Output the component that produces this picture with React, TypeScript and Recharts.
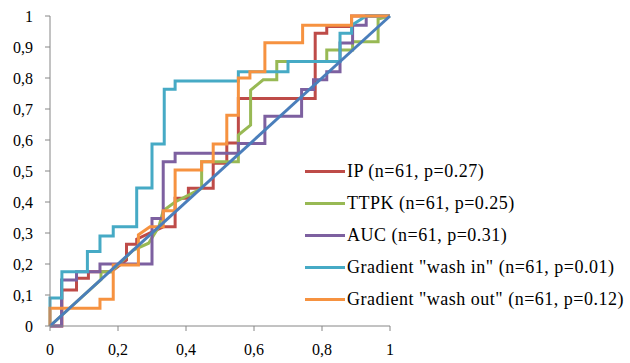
import { LineChart, Line, XAxis, YAxis, Legend } from "recharts";

// ROC curves: false positive rate (x) / true positive rate (y) corner points
const ipX = [0, 0.035, 0.035, 0.078, 0.078, 0.113, 0.113, 0.18, 0.225, 0.225, 0.255, 0.255, 0.333, 0.368, 0.368, 0.407, 0.407, 0.48, 0.48, 0.52, 0.52, 0.554, 0.554, 0.78, 0.78, 0.814, 0.814, 0.887, 0.887, 1];
const ipY = [0, 0, 0.116, 0.116, 0.154, 0.154, 0.175, 0.175, 0.213, 0.264, 0.264, 0.28, 0.32, 0.32, 0.412, 0.412, 0.444, 0.444, 0.525, 0.525, 0.59, 0.59, 0.734, 0.734, 0.944, 0.944, 0.966, 0.966, 1, 1];

const ttpkX = [0, 0.15, 0.15, 0.18, 0.245, 0.29, 0.32, 0.333, 0.368, 0.446, 0.446, 0.554, 0.554, 0.59, 0.59, 0.627, 0.667, 0.667, 0.814, 0.814, 0.89, 0.89, 0.965, 0.965, 1];
const ttpkY = [0, 0.15, 0.175, 0.175, 0.245, 0.267, 0.32, 0.372, 0.4, 0.444, 0.53, 0.53, 0.616, 0.648, 0.761, 0.794, 0.794, 0.853, 0.853, 0.89, 0.89, 0.917, 0.917, 0.99, 1];

const aucX = [0, 0.034, 0.034, 0.078, 0.078, 0.147, 0.147, 0.3, 0.3, 0.333, 0.333, 0.368, 0.368, 0.554, 0.554, 0.632, 0.632, 0.74, 0.74, 0.775, 0.775, 0.814, 0.814, 0.853, 0.853, 0.89, 0.89, 0.93, 0.93, 1];
const aucY = [0, 0, 0.148, 0.148, 0.175, 0.175, 0.2, 0.2, 0.347, 0.347, 0.53, 0.53, 0.557, 0.557, 0.589, 0.589, 0.677, 0.677, 0.763, 0.763, 0.794, 0.794, 0.82, 0.82, 0.913, 0.913, 0.97, 0.97, 1, 1];

const washInX = [0, 0, 0.035, 0.035, 0.11, 0.11, 0.147, 0.147, 0.186, 0.186, 0.255, 0.255, 0.3, 0.3, 0.336, 0.336, 0.368, 0.368, 0.554, 0.554, 0.7, 0.7, 0.853, 0.853, 0.887, 0.887, 0.93, 1];
const washInY = [0, 0.09, 0.09, 0.175, 0.175, 0.24, 0.24, 0.29, 0.29, 0.32, 0.32, 0.445, 0.445, 0.587, 0.587, 0.764, 0.764, 0.79, 0.79, 0.82, 0.82, 0.853, 0.853, 0.944, 0.944, 0.97, 1, 1];

const washOutX = [0, 0, 0.147, 0.147, 0.186, 0.186, 0.26, 0.26, 0.294, 0.333, 0.333, 0.368, 0.368, 0.446, 0.446, 0.48, 0.48, 0.52, 0.52, 0.554, 0.554, 0.588, 0.588, 0.632, 0.632, 0.743, 0.743, 0.887, 0.887, 1];
const washOutY = [0, 0.057, 0.057, 0.086, 0.086, 0.197, 0.197, 0.294, 0.32, 0.32, 0.372, 0.372, 0.503, 0.503, 0.53, 0.53, 0.587, 0.587, 0.68, 0.68, 0.8, 0.8, 0.82, 0.82, 0.914, 0.914, 0.97, 0.97, 1, 1];

const refX = [0, 1];
const refY = [0, 1];

const xTicks = [0, 0.2, 0.4, 0.6, 0.8, 1];
const yTicks = [0, 0.1, 0.2, 0.3, 0.4, 0.5, 0.6, 0.7, 0.8, 0.9, 1];

const toPoints = (xs: number[], ys: number[]) => xs.map((x, i) => ({ x, y: ys[i] }));

const series = [
  { name: "IP (n=61, p=0.27)", color: "#BE4B48", data: toPoints(ipX, ipY) },
  { name: "TTPK (n=61, p=0.25)", color: "#98B954", data: toPoints(ttpkX, ttpkY) },
  { name: "AUC (n=61, p=0.31)", color: "#7D60A0", data: toPoints(aucX, aucY) },
  { name: "Gradient \"wash in\" (n=61, p=0.01)", color: "#46AAC5", data: toPoints(washInX, washInY) },
  { name: "Gradient \"wash out\" (n=61, p=0.12)", color: "#F69240", data: toPoints(washOutX, washOutY) },
];

const font = "Liberation Serif, DejaVu Serif, Times New Roman, serif";
const comma = (v: number) => String(v).replace(".", ",");

const LegendBox = () => (
  <div style={{ fontFamily: font, fontSize: 18, letterSpacing: 0.5, color: "#000" }}>
    {series.map((s) => (
      <div key={s.name} style={{ display: "flex", alignItems: "center", height: 32 }}>
        <span style={{ display: "inline-block", width: 40, height: 3, background: s.color, marginRight: 2 }} />
        <span style={{ whiteSpace: "nowrap" }}>{s.name}</span>
      </div>
    ))}
  </div>
);

export default function App() {
  return (
    <div style={{ position: "absolute", left: 0, top: 0, width: 630, height: 363, background: "#fff", fontFamily: font }}>
      <LineChart width={630} height={363} margin={{ top: 16, right: 240, left: 0, bottom: 0 }} style={{ fontFamily: font }}>
        <XAxis
          type="number"
          dataKey="x"
          domain={[0, 1]}
          ticks={xTicks}
          tickFormatter={comma}
          stroke="#868686"
          tickSize={5}
          tickMargin={13}
          height={37}
          allowDuplicatedCategory={false}
          tick={{ fill: "#000", fontSize: 16, fontFamily: font }}
        />
        <YAxis
          type="number"
          dataKey="y"
          domain={[0, 1]}
          ticks={yTicks}
          tickFormatter={comma}
          stroke="#868686"
          tickSize={5}
          tickMargin={12}
          width={50}
          tick={{ fill: "#000", fontSize: 16, fontFamily: font }}
        />
        {series.map((s) => (
          <Line
            key={s.name}
            data={s.data}
            dataKey="y"
            type="linear"
            stroke={s.color}
            strokeWidth={3}
            dot={false}
            isAnimationActive={false}
          />
        ))}
        <Line
          data={toPoints(refX, refY)}
          dataKey="y"
          type="linear"
          stroke="#4A7EBB"
          strokeWidth={3}
          dot={false}
          legendType="none"
          isAnimationActive={false}
        />
        <Legend
          layout="horizontal"
          verticalAlign="middle"
          align="center"
          content={() => <LegendBox />}
          wrapperStyle={{ left: 305, top: 155, width: "auto" }}
        />
      </LineChart>
    </div>
  );
}
